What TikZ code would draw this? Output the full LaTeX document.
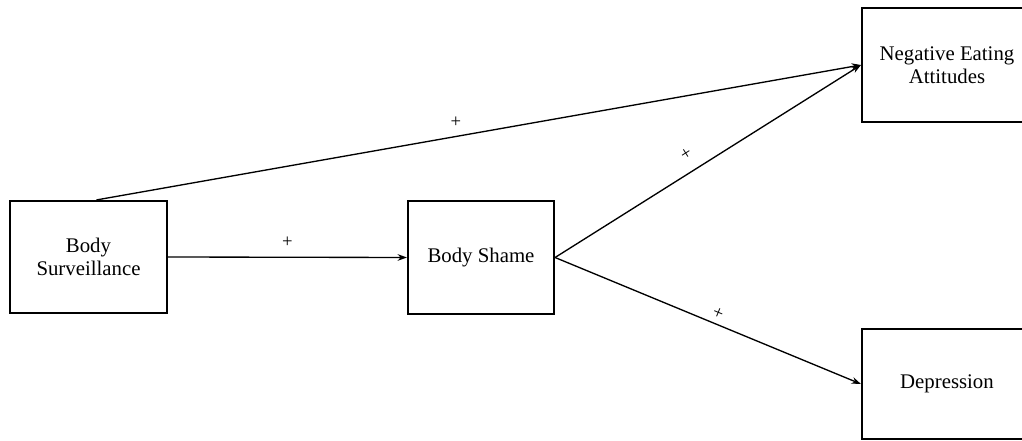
\documentclass[tikz,border=0pt]{standalone}
\usepackage{fontspec}
\setmainfont{Liberation Serif}
\usetikzlibrary{arrows.meta}
\begin{document}
\begin{tikzpicture}[x=0.75pt,y=-0.75pt,
  box/.style={draw,line width=1.6pt,inner sep=0pt,align=center,
    font=\fontsize{15.6}{17}\selectfont},
  link/.style={line width=1pt,-{Stealth[length=7pt,width=5pt]}},
  sign/.style={font=\fontsize{14}{14}\selectfont,inner sep=1pt}]
\useasboundingbox (0,0) rectangle (1022,441);
\clip (0,0) rectangle (1022,441);
\node[box,minimum width=157*0.75pt,minimum height=112*0.75pt] (bs) at (88.5,257) {Body\\Surveillance};
\node[box,minimum width=146*0.75pt,minimum height=113*0.75pt] (sh) at (481,257.5) {Body Shame};
\node[box,minimum width=170*0.75pt,minimum height=114*0.75pt] (nea) at (947,65) {Negative Eating\\Attitudes};
\node[box,minimum width=170*0.75pt,minimum height=110*0.75pt] (dep) at (947,384) {Depression};
\draw[link] ([xshift=6pt]bs.north) -- (nea.west) node[sign,pos=0.47,above=5pt] {+};
\draw[link] (bs.east) -- (sh.west) node[sign,pos=0.5,above=6pt] {+};
\draw[link] (sh.east) -- (nea.west) node[sign,pos=0.46,sloped,above=8pt] {+};
\draw[link] (sh.east) -- (dep.west) node[sign,pos=0.52,sloped,above=2pt] {+};
\end{tikzpicture}
\end{document}
